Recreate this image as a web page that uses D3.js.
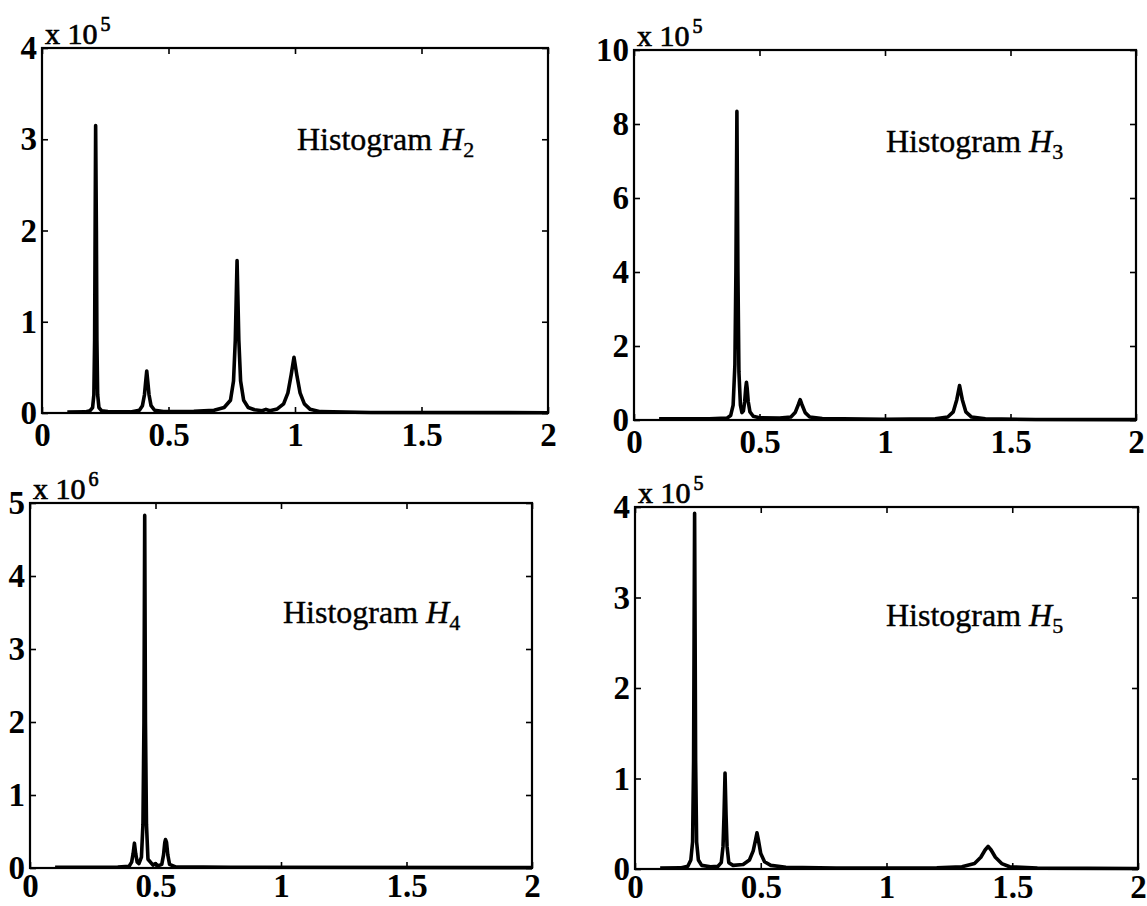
<!DOCTYPE html>
<html>
<head>
<meta charset="utf-8">
<script src="https://cdn.jsdelivr.net/npm/d3@7"></script>
<style>
  body { margin: 0; background: #fff; }
  svg { display: block; }
  text { font-family: "Liberation Serif", "Times New Roman", serif; fill: #000; }
</style>
</head>
<body>
<svg width="1147" height="906"></svg>
<script>
// Shared x axis
const xTicks = [0, 0.5, 1, 1.5, 2];
const xTickLabels = ["0", "0.5", "1", "1.5", "2"];

// y ticks per panel (in units of the exponent shown on top)
const h2Ticks = [0, 1, 2, 3, 4];
const h3Ticks = [0, 2, 4, 6, 8, 10];
const h4Ticks = [0, 1, 2, 3, 4, 5];
const h5Ticks = [0, 1, 2, 3, 4];

const exponents = ["5", "5", "6", "5"];
const subscripts = ["2", "3", "4", "5"];

// Histogram curves: [x, count / 10^exponent]
const h2Points = [[0.1,0.01],[0.17,0.012],[0.19,0.025],[0.2,0.06],[0.205,0.2],[0.208,0.8],[0.21,2.0],[0.212,3.15],
  [0.215,2.0],[0.217,0.8],[0.22,0.2],[0.225,0.06],[0.235,0.025],[0.26,0.015],[0.35,0.012],[0.385,0.03],[0.397,0.08],
  [0.405,0.2],[0.41,0.35],[0.414,0.46],[0.418,0.35],[0.423,0.2],[0.431,0.08],[0.445,0.03],[0.48,0.015],[0.6,0.02],
  [0.68,0.03],[0.72,0.06],[0.745,0.14],[0.757,0.35],[0.764,0.8],[0.768,1.3],[0.771,1.67],[0.774,1.3],[0.778,0.8],
  [0.785,0.35],[0.797,0.14],[0.815,0.06],[0.84,0.035],[0.87,0.025],[0.885,0.04],[0.9,0.025],[0.93,0.045],[0.955,0.1],
  [0.972,0.22],[0.985,0.42],[0.996,0.61],[1.007,0.42],[1.02,0.22],[1.037,0.1],[1.06,0.04],[1.1,0.015],[1.3,0.006],[2,0.003]];

const h3Points = [[0.1,0.03],[0.3,0.03],[0.37,0.05],[0.385,0.12],[0.395,0.4],[0.402,1.5],[0.406,4.0],[0.41,8.34],
  [0.414,4.0],[0.418,1.3],[0.424,0.4],[0.43,0.2],[0.436,0.25],[0.441,0.5],[0.445,0.85],[0.448,1.02],[0.451,0.85],
  [0.455,0.5],[0.462,0.22],[0.475,0.1],[0.5,0.06],[0.58,0.05],[0.625,0.08],[0.642,0.2],[0.655,0.42],[0.662,0.55],
  [0.669,0.42],[0.682,0.2],[0.7,0.08],[0.75,0.04],[1.0,0.02],[1.2,0.03],[1.25,0.08],[1.272,0.22],[1.286,0.55],
  [1.297,0.93],[1.308,0.55],[1.322,0.22],[1.345,0.08],[1.4,0.03],[1.6,0.015],[2,0.01]];

const h4Points = [[0.1,0.01],[0.35,0.012],[0.395,0.025],[0.405,0.08],[0.411,0.2],[0.416,0.34],[0.421,0.2],[0.427,0.08],
  [0.434,0.06],[0.444,0.15],[0.45,0.6],[0.454,2.0],[0.457,4.83],[0.46,2.0],[0.464,0.6],[0.47,0.12],[0.49,0.04],
  [0.5,0.06],[0.51,0.03],[0.525,0.05],[0.532,0.18],[0.537,0.35],[0.54,0.39],[0.544,0.35],[0.549,0.18],[0.556,0.05],
  [0.58,0.015],[0.8,0.01],[2,0.005]];

const h5Points = [[0.1,0.01],[0.18,0.012],[0.21,0.03],[0.222,0.1],[0.229,0.3],[0.233,1.2],[0.235,2.6],[0.237,3.93],
  [0.239,2.6],[0.241,1.2],[0.245,0.3],[0.252,0.1],[0.265,0.04],[0.3,0.025],[0.33,0.03],[0.343,0.07],[0.35,0.25],
  [0.354,0.6],[0.358,1.06],[0.362,0.6],[0.366,0.25],[0.373,0.07],[0.39,0.04],[0.43,0.05],[0.455,0.1],[0.47,0.2],
  [0.48,0.33],[0.485,0.4],[0.49,0.33],[0.5,0.17],[0.515,0.08],[0.54,0.04],[0.6,0.02],[0.8,0.01],[1.2,0.012],
  [1.3,0.025],[1.35,0.06],[1.375,0.13],[1.392,0.21],[1.404,0.25],[1.416,0.21],[1.433,0.13],[1.458,0.06],
  [1.49,0.025],[1.6,0.01],[2,0.005]];

var svg = d3.select("svg");
svg.append("rect").attr("width", 1147).attr("height", 906).attr("fill", "#fff");

// Panel boxes: left, top, right, bottom; title offset from the top-left corner
var panels = [
  {box: [42, 48, 548, 413],   yTicks: h2Ticks, pts: h2Points, title: [255, 102], pad: 10},
  {box: [634, 50, 1136, 420], yTicks: h3Ticks, pts: h3Points, title: [252, 102], pad: 10},
  {box: [30, 503, 532, 868],  yTicks: h4Ticks, pts: h4Points, title: [253, 120], pad: 6},
  {box: [635, 507, 1138, 869], yTicks: h5Ticks, pts: h5Points, title: [251, 119], pad: 6}
];

panels.forEach(function(p, i) {
  var w = p.box[2] - p.box[0],
      h = p.box[3] - p.box[1],
      g = svg.append("g").attr("transform", "translate(" + p.box[0] + "," + p.box[1] + ")");

  var x = d3.scaleLinear().domain([0, 2]).range([0, w]),
      y = d3.scaleLinear().domain([0, d3.max(p.yTicks)]).range([h, 0]);

  // inward ticks on all four sides, MATLAB style
  var bottom = g.append("g").attr("transform", "translate(0," + h + ")")
    .call(d3.axisBottom(x).tickValues(xTicks).tickSize(-6).tickPadding(p.pad)
      .tickFormat(function(d, k) { return xTickLabels[k]; }));
  var top = g.append("g")
    .call(d3.axisTop(x).tickValues(xTicks).tickSize(-6).tickFormat(""));
  var left = g.append("g")
    .call(d3.axisLeft(y).tickValues(p.yTicks).tickSize(-6).tickPadding(5).tickFormat(d3.format("d")));
  var right = g.append("g").attr("transform", "translate(" + w + ",0)")
    .call(d3.axisRight(y).tickValues(p.yTicks).tickSize(-6).tickFormat(""));

  [bottom, top, left, right].forEach(function(a) {
    a.select(".domain").remove();
    a.selectAll(".tick line").attr("stroke", "#000").attr("stroke-width", 1.6);
    a.selectAll("text")
      .style("font-family", "'Liberation Serif', serif")
      .style("font-size", "33px")
      .style("font-weight", "bold");
  });

  // frame
  g.append("rect")
    .attr("width", w).attr("height", h)
    .attr("fill", "none").attr("stroke", "#000").attr("stroke-width", 2.2);

  // histogram curve
  var line = d3.line()
    .x(function(d) { return x(d[0]); })
    .y(function(d) { return y(d[1]); });

  g.append("path")
    .datum(p.pts)
    .attr("d", line)
    .attr("fill", "none")
    .attr("stroke", "#000")
    .attr("stroke-width", 3.6)
    .attr("stroke-linejoin", "round");

  // exponent label
  var ex = g.append("text")
    .attr("x", 3).attr("y", -4)
    .style("font-size", "30px")
    .attr("stroke", "#000").attr("stroke-width", 0.7);
  ex.append("tspan").text("x 10");
  ex.append("tspan").attr("dy", -13).attr("dx", 3).style("font-size", "20px").text(exponents[i]);

  // title
  var t = g.append("text")
    .attr("x", p.title[0]).attr("y", p.title[1])
    .style("font-size", "32px")
    .attr("stroke", "#000").attr("stroke-width", 0.4);
  t.append("tspan").text("Histogram ");
  t.append("tspan").style("font-style", "italic").text("H");
  t.append("tspan").style("font-size", "22px").attr("dy", 7).text(subscripts[i]);
});
</script>
</body>
</html>
